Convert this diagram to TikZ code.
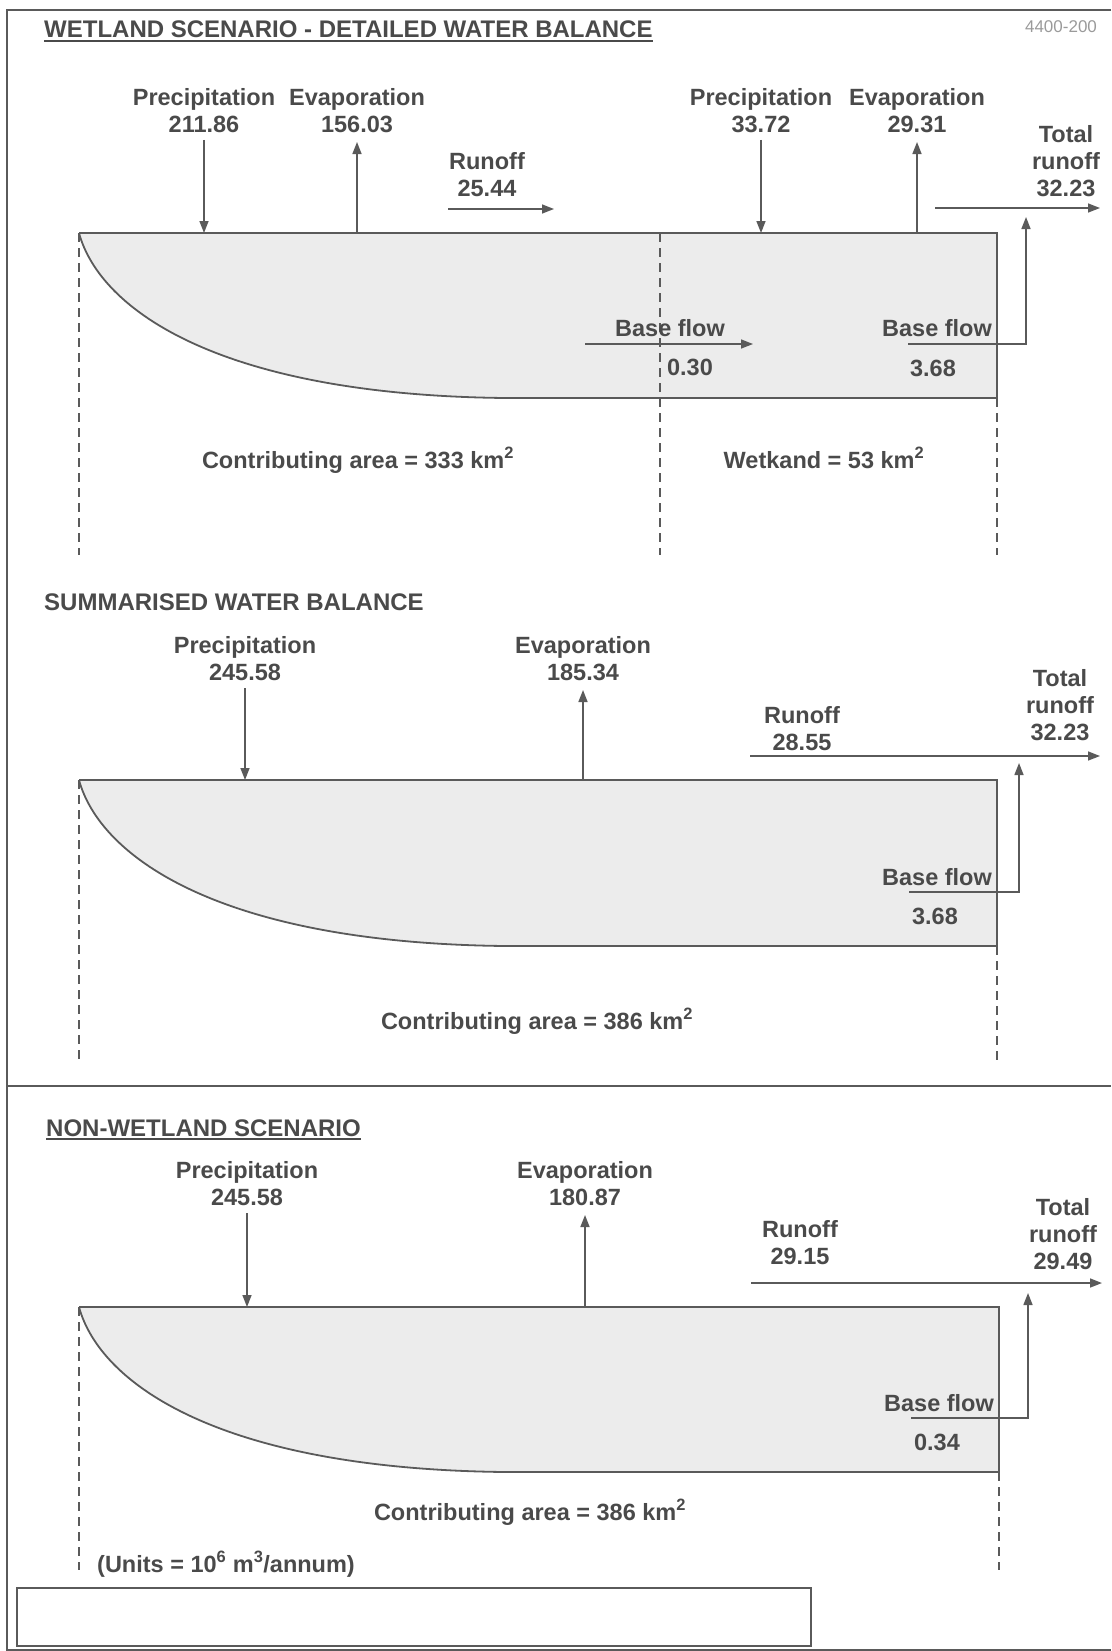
\documentclass[tikz,border=0pt]{standalone}
\usepackage{fontspec}
\setmainfont{Liberation Sans}
\usetikzlibrary{positioning,arrows.meta,calc}
\definecolor{Ink}{HTML}{4A4A4A}
\definecolor{Rule}{HTML}{5A5A5A}
\definecolor{Soil}{HTML}{ECECEC}
\definecolor{Faint}{HTML}{9A9A9A}
\tikzset{
  lbl/.style={font=\fontsize{23.5}{27}\selectfont\bfseries, text=Ink, align=center, inner sep=0pt},
  heading/.style={font=\fontsize{24}{28}\selectfont\bfseries, text=Ink, anchor=base west, inner sep=0pt},
  flow/.style={-{Triangle[length=12pt,width=9pt]}, line width=1.5pt, Rule},
  basin/.style={draw=Rule, line width=1.8pt, fill=Soil},
  guide/.style={Rule, line width=1.2pt, dash pattern=on 9pt off 6pt},
  frame/.style={Rule, line width=2.2pt},
  uline/.style={Ink, line width=1.3pt},
}

\begin{document}
\begin{tikzpicture}[x=1pt, y=-1pt]
  \useasboundingbox (0,0) rectangle (1111,1651);
  % outer frame and divider
  \draw[frame] (1111,10) -- (7,10) -- (7,1650) -- (1111,1650);
  \draw[frame] (7,1086) -- (1111,1086);
  \draw[Rule, line width=1.6pt] (17,1588) rectangle (811,1646);

  % ---------- wetland scenario, detailed ----------
  \node[heading] (ttl1) at (44,38) {WETLAND SCENARIO - DETAILED WATER BALANCE};
  \draw[uline] ([yshift=-3pt]ttl1.base west) -- ([yshift=-3pt]ttl1.base east);
  \node[font=\fontsize{17}{20}\selectfont, text=Faint, inner sep=0pt, anchor=base] (ref) at (1061,33) {4400-200};

  \coordinate (tl1) at (79,233);
  \coordinate (tr1) at (997,233);
  \coordinate (br1) at (997,398);
  \draw[basin] (tl1) -- (tr1) -- (br1) -- (505,398) .. controls (220,395) and (100,310) .. (tl1);
  \coordinate (mid1) at (660,233);
  \draw[guide] (tl1) -- (79,555);
  \draw[guide] (mid1) -- (660,555);
  \draw[guide] (br1) -- (997,555);

  \node[lbl, anchor=south] (prec1) at (204,133) {Precipitation\\211.86};
  \node[lbl, anchor=south] (evap1) at (357,133) {Evaporation\\156.03};
  \node[lbl, anchor=south] (ro1) at (487,197) {Runoff\\25.44};
  \node[lbl, anchor=south] (prec2) at (761,133) {Precipitation\\33.72};
  \node[lbl, anchor=south] (evap2) at (917,133) {Evaporation\\29.31};
  \node[lbl, anchor=south] (tot1) at (1066,197) {Total\\runoff\\32.23};
  \draw[flow] ([yshift=-7pt]prec1.south) -- (prec1.south |- tl1);
  \draw[flow] (evap1.south |- tl1) -- ([yshift=-9pt]evap1.south);
  \draw[flow] ([yshift=-7pt]prec2.south) -- (prec2.south |- tl1);
  \draw[flow] (evap2.south |- tl1) -- ([yshift=-9pt]evap2.south);
  \coordinate (ro1a) at (448,209);
  \coordinate (ro1b) at (554,209);
  \draw[flow] (ro1a) -- (ro1b);
  \coordinate (tot1a) at (935,208);
  \coordinate (tot1b) at (1100,208);
  \draw[flow] (tot1a) -- (tot1b);

  \node[lbl, anchor=base] (bf1) at (670,336) {Base flow};
  \node[lbl, anchor=base] (bv1) at (690,375) {0.30};
  \coordinate (bf1a) at (585,344);
  \coordinate (bf1b) at (753,344);
  \draw[flow] (bf1a) -- (bf1b);
  \node[lbl, anchor=base] (bf2) at (937,336) {Base flow};
  \node[lbl, anchor=base] (bv2) at (933,376) {3.68};
  \coordinate (bf2a) at (908,344);
  \coordinate (bf2b) at (1026,217);
  \draw[flow] (bf2a) -| (bf2b);

  \node[lbl, anchor=base] (area1) at (358,468) {Contributing area = 333 km\textsuperscript{2}};
  \node[lbl, anchor=base] (wet1) at (824,468) {Wetkand = 53 km\textsuperscript{2}};

  % ---------- summarised water balance ----------
  \node[heading] (ttl2) at (44,610) {SUMMARISED WATER BALANCE};

  \coordinate (tl2) at (79,780);
  \coordinate (tr2) at (997,780);
  \coordinate (br2) at (997,946);
  \draw[basin] (tl2) -- (tr2) -- (br2) -- (505,946) .. controls (220,943) and (100,857) .. (tl2);
  \draw[guide] (tl2) -- (79,1064);
  \draw[guide] (br2) -- (997,1064);

  \node[lbl, anchor=south] (prec3) at (245,681) {Precipitation\\245.58};
  \node[lbl, anchor=south] (evap3) at (583,681) {Evaporation\\185.34};
  \node[lbl, anchor=south] (ro2) at (802,751) {Runoff\\28.55};
  \node[lbl, anchor=south] (tot2) at (1060,741) {Total\\runoff\\32.23};
  \draw[flow] ([yshift=-7pt]prec3.south) -- (prec3.south |- tl2);
  \draw[flow] (evap3.south |- tl2) -- ([yshift=-9pt]evap3.south);
  \coordinate (ro2a) at (750,756);
  \coordinate (ro2b) at (1100,756);
  \draw[flow] (ro2a) -- (ro2b);

  \node[lbl, anchor=base] (bf3) at (937,885) {Base flow};
  \node[lbl, anchor=base] (bv3) at (935,924) {3.68};
  \coordinate (bf3a) at (909,892);
  \coordinate (bf3b) at (1019,763);
  \draw[flow] (bf3a) -| (bf3b);

  \node[lbl, anchor=base] (area2) at (537,1029) {Contributing area = 386 km\textsuperscript{2}};

  % ---------- non-wetland scenario ----------
  \node[heading] (ttl3) at (46,1136) {NON-WETLAND SCENARIO};
  \draw[uline] ([yshift=-3pt]ttl3.base west) -- ([yshift=-3pt]ttl3.base east);

  \coordinate (tl3) at (79,1307);
  \coordinate (tr3) at (999,1307);
  \coordinate (br3) at (999,1472);
  \draw[basin] (tl3) -- (tr3) -- (br3) -- (505,1472) .. controls (220,1469) and (100,1384) .. (tl3);
  \draw[guide] (tl3) -- (79,1570);
  \draw[guide] (br3) -- (999,1570);

  \node[lbl, anchor=south] (prec4) at (247,1206) {Precipitation\\245.58};
  \node[lbl, anchor=south] (evap4) at (585,1206) {Evaporation\\180.87};
  \node[lbl, anchor=south] (ro3) at (800,1265) {Runoff\\29.15};
  \node[lbl, anchor=south] (tot3) at (1063,1270) {Total\\runoff\\29.49};
  \draw[flow] ([yshift=-7pt]prec4.south) -- (prec4.south |- tl3);
  \draw[flow] (evap4.south |- tl3) -- ([yshift=-9pt]evap4.south);
  \coordinate (ro3a) at (751,1283);
  \coordinate (ro3b) at (1102,1283);
  \draw[flow] (ro3a) -- (ro3b);

  \node[lbl, anchor=base] (bf4) at (939,1411) {Base flow};
  \node[lbl, anchor=base] (bv4) at (937,1450) {0.34};
  \coordinate (bf4a) at (911,1418);
  \coordinate (bf4b) at (1028,1293);
  \draw[flow] (bf4a) -| (bf4b);

  \node[lbl, anchor=base] (area3) at (530,1520) {Contributing area = 386 km\textsuperscript{2}};
  \node[lbl, anchor=base west] (units) at (97,1572) {(Units = 10\textsuperscript{6} m\textsuperscript{3}/annum)};
\end{tikzpicture}
\end{document}
